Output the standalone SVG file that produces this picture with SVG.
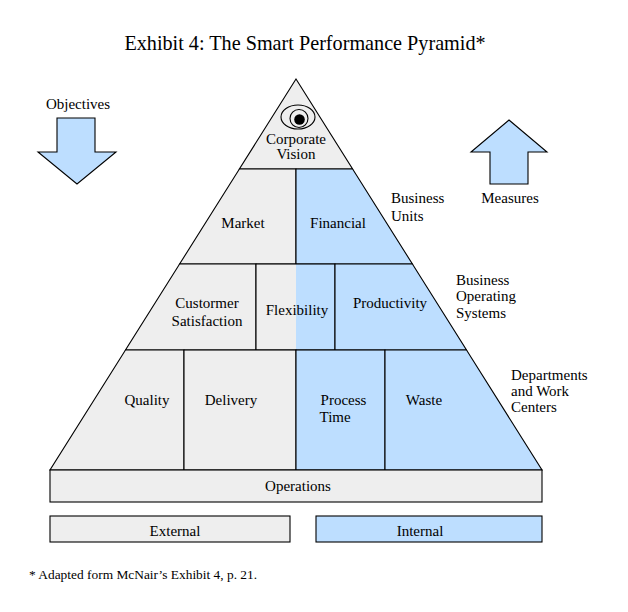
<svg xmlns="http://www.w3.org/2000/svg" width="628" height="612" viewBox="0 0 628 612">
<style>
.g{fill:#EEEEEE;stroke:#000;stroke-width:1.1}
.b{fill:#BDDEFF;stroke:#000;stroke-width:1.1}
.nf{stroke:none}
text{font-family:"Liberation Serif","Times New Roman",serif;font-size:15px;fill:#000}
.c{text-anchor:middle}
</style>
<rect width="628" height="612" fill="#fff"/>
<text class="c" x="305" y="50" style="font-size:20.2px">Exhibit 4: The Smart Performance Pyramid*</text>

<g id="objectives">
<text class="c" x="78" y="109">Objectives</text>
<polygon class="b" points="57,118 95,118 95,152 116,152 77,184 38,152 57,152"/>
</g>
<g id="measures">
<polygon class="b" points="509,120 547,152 528,152 528,184 490,184 490,152 471,152"/>
<text class="c" x="510" y="203">Measures</text>
</g>

<g id="corporate-vision">
<polygon class="g" points="296,79 352.6,169 239.4,169"/>
<ellipse cx="298" cy="117" rx="17" ry="12" fill="none" stroke="#000" stroke-width="1.1"/>
<circle cx="299" cy="118.5" r="9" fill="none" stroke="#000" stroke-width="1.1"/>
<circle cx="299.5" cy="119.5" r="5.3" fill="#000"/>
<text class="c" x="296" y="144">Corporate</text>
<text class="c" x="296" y="159">Vision</text>
</g>

<g id="market">
<polygon class="g" points="239.4,169 296,169 296,264 179.6,264"/>
<text class="c" x="243" y="228">Market</text>
</g>
<g id="financial">
<polygon class="b" points="296,169 352.6,169 412.4,264 296,264"/>
<text class="c" x="338" y="228">Financial</text>
</g>

<g id="customer-satisfaction">
<polygon class="g" points="179.6,264 256,264 256,350 125.5,350"/>
<text class="c" x="207" y="308">Custormer</text>
<text class="c" x="207" y="326">Satisfaction</text>
</g>
<g id="flexibility">
<rect class="g nf" x="256" y="264" width="40" height="86"/>
<rect class="b nf" x="296" y="264" width="39" height="86"/>
<rect x="256" y="264" width="79" height="86" fill="none" stroke="#000" stroke-width="1.1"/>
<text class="c" x="297" y="315">Flexibility</text>
</g>
<g id="productivity">
<polygon class="b" points="335,264 412.4,264 466.5,350 335,350"/>
<text class="c" x="390" y="308">Productivity</text>
</g>

<g id="quality">
<polygon class="g" points="125.5,350 184,350 184,470 50,470"/>
<text class="c" x="147" y="405">Quality</text>
</g>
<g id="delivery">
<rect class="g" x="184" y="350" width="112" height="120"/>
<text class="c" x="231" y="405">Delivery</text>
</g>
<g id="process-time">
<rect class="b" x="296" y="350" width="89" height="120"/>
<text class="c" x="343.5" y="405">Process</text>
<text x="319.5" y="422">Time</text>
</g>
<g id="waste">
<polygon class="b" points="385,350 466.5,350 542,470 385,470"/>
<text class="c" x="424" y="405">Waste</text>
</g>

<g id="operations">
<rect class="g" x="50" y="470" width="492" height="32"/>
<text class="c" x="298" y="491">Operations</text>
</g>
<g id="external">
<rect class="g" x="50" y="516" width="240" height="26"/>
<text class="c" x="175" y="536">External</text>
</g>
<g id="internal">
<rect class="b" x="316" y="516" width="226" height="26"/>
<text class="c" x="420" y="536">Internal</text>
</g>

<g id="level-labels">
<text x="391" y="203">Business</text>
<text x="391" y="221">Units</text>
<text x="456" y="285">Business</text>
<text x="456" y="301">Operating</text>
<text x="456" y="318">Systems</text>
<text x="511" y="380">Departments</text>
<text x="511" y="396">and Work</text>
<text x="511" y="412">Centers</text>
</g>

<g id="connectors"></g>

<text x="29" y="579" style="font-size:13.4px">* Adapted form McNair’s Exhibit 4, p. 21.</text>
</svg>
